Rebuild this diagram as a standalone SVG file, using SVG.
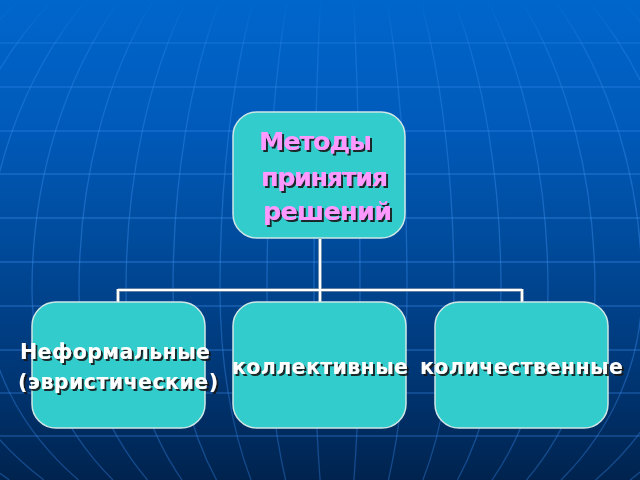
<svg xmlns="http://www.w3.org/2000/svg" width="640" height="480" viewBox="0 0 640 480">
  <defs>
    <linearGradient id="bg" x1="0" y1="0" x2="0" y2="1">
      <stop offset="0" stop-color="#0066cc"/>
      <stop offset="0.25" stop-color="#005bbb"/>
      <stop offset="0.5" stop-color="#004b9c"/>
      <stop offset="0.75" stop-color="#00397a"/>
      <stop offset="1" stop-color="#00234e"/>
    </linearGradient>
    <linearGradient id="gridStroke" gradientUnits="userSpaceOnUse" x1="0" y1="0" x2="0" y2="480">
      <stop offset="0" stop-color="#3b8ff0" stop-opacity="0"/>
      <stop offset="0.1" stop-color="#3b8ff0" stop-opacity="0.3"/>
      <stop offset="0.5" stop-color="#3b8ff0" stop-opacity="0.42"/>
      <stop offset="1" stop-color="#2f7ad8" stop-opacity="0.42"/>
    </linearGradient>
    <filter id="shadow" x="-10%" y="-30%" width="120%" height="160%">
      <feDropShadow dx="2" dy="2" stdDeviation="0.5" flood-color="#151515" flood-opacity="0.9"/>
    </filter>
    <style>
      .grid { fill: none; stroke: url(#gridStroke); stroke-width: 1.3; }
      .box { fill: #33cccc; stroke: #cfe6e6; stroke-width: 1.5; }
      .conn { fill: none; stroke: #ffffff; stroke-width: 2.2; }
      .connEdge { fill: none; stroke: #7d93a8; stroke-width: 3.6; }
      .title { font-family: "DejaVu Sans", Verdana, sans-serif; font-weight: bold; font-size: 25.5px; fill: #ff99ff; filter: url(#shadow); }
      .label { font-family: "DejaVu Sans", Verdana, sans-serif; font-weight: bold; font-size: 20.5px; fill: #ffffff; filter: url(#shadow); }
    </style>
  </defs>

  <rect x="0" y="0" width="640" height="480" fill="url(#bg)"/>

  <g id="background-grid">
    <path class="grid" d="M0 43H640M0 87H640M0 131H640M0 174H640M0 218H640M0 262H640M0 306H640M0 350H640M0 393H640M0 436H640"/>
    <path class="grid" d="M353.38 0A23 413 0 0 1 360 290A23 280 0 0 1 353.89 480"/>
    <path class="grid" d="M386.84 0A70 413 0 0 1 407 290A70 280 0 0 1 388.42 480"/>
    <path class="grid" d="M420.30 0A117 413 0 0 1 454 290A117 280 0 0 1 422.94 480"/>
    <path class="grid" d="M453.77 0A164 413 0 0 1 501 290A164 280 0 0 1 457.46 480"/>
    <path class="grid" d="M487.23 0A211 413 0 0 1 548 290A211 280 0 0 1 491.98 480"/>
    <path class="grid" d="M520.70 0A258 413 0 0 1 595 290A258 280 0 0 1 526.50 480"/>
    <path class="grid" d="M554.16 0A305 413 0 0 1 642 290A305 280 0 0 1 561.02 480"/>
    <path class="grid" d="M587.62 0A352 413 0 0 1 689 290A352 280 0 0 1 595.54 480"/>
    <path class="grid" d="M621.09 0A399 413 0 0 1 736 290A399 280 0 0 1 630.07 480"/>
    <path class="grid" d="M320.62 0A23 413 0 0 0 314 290A23 280 0 0 0 320.11 480"/>
    <path class="grid" d="M287.16 0A70 413 0 0 0 267 290A70 280 0 0 0 285.58 480"/>
    <path class="grid" d="M253.70 0A117 413 0 0 0 220 290A117 280 0 0 0 251.06 480"/>
    <path class="grid" d="M220.23 0A164 413 0 0 0 173 290A164 280 0 0 0 216.54 480"/>
    <path class="grid" d="M186.77 0A211 413 0 0 0 126 290A211 280 0 0 0 182.02 480"/>
    <path class="grid" d="M153.30 0A258 413 0 0 0 79 290A258 280 0 0 0 147.50 480"/>
    <path class="grid" d="M119.84 0A305 413 0 0 0 32 290A305 280 0 0 0 112.98 480"/>
    <path class="grid" d="M86.38 0A352 413 0 0 0 -15 290A352 280 0 0 0 78.46 480"/>
    <path class="grid" d="M52.91 0A399 413 0 0 0 -62 290A399 280 0 0 0 43.93 480"/>
    <path class="grid" d="M19.45 0A446 413 0 0 0 -109 290A446 280 0 0 0 9.41 480"/>
  </g>

  <g id="connectors">
    <path class="connEdge" d="M320 239V290M118 290H522M118 289V302M320 289V302M522 289V302"/>
    <path class="conn" d="M320 239V290M118 290H522M118 289V302M320 289V302M522 289V302"/>
  </g>

  <g id="node-methods">
    <rect class="box" x="233" y="112" width="172" height="126" rx="24" ry="24"/>
    <text class="title" x="259" y="150" textLength="113" lengthAdjust="spacing">Методы</text>
    <text class="title" x="261" y="186" textLength="127" lengthAdjust="spacing">принятия</text>
    <text class="title" x="263" y="220" textLength="129" lengthAdjust="spacing">решений</text>
  </g>

  <g id="node-informal">
    <rect class="box" x="32" y="302" width="173" height="126" rx="24" ry="24"/>
    <text class="label" x="20" y="359" textLength="190" lengthAdjust="spacing">Неформальные</text>
    <text class="label" x="18" y="389" textLength="200" lengthAdjust="spacing">(эвристические)</text>
  </g>

  <g id="node-collective">
    <rect class="box" x="233" y="302" width="173" height="126" rx="24" ry="24"/>
    <text class="label" x="232" y="374" textLength="176" lengthAdjust="spacing">коллективные</text>
  </g>

  <g id="node-quantitative">
    <rect class="box" x="435" y="302" width="173" height="126" rx="24" ry="24"/>
    <text class="label" x="420" y="374" textLength="203" lengthAdjust="spacing">количественные</text>
  </g>
</svg>
